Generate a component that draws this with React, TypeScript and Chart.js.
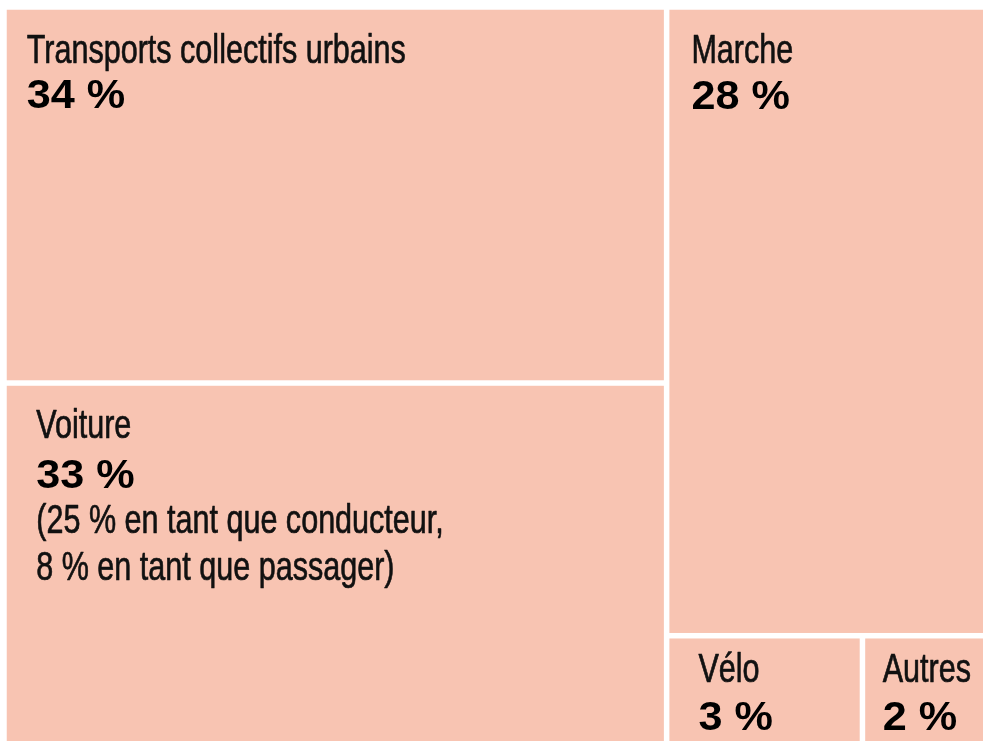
import { useEffect, useRef } from "react";
import { Chart, registerables } from "chart.js";

Chart.register(...registerables);

// ---- Data ----
const categories = ["Transports collectifs urbains", "Voiture", "Marche", "Vélo", "Autres"];
const shares = [34, 33, 28, 3, 2];
const shareLabels = ["34 %", "33 %", "28 %", "3 %", "2 %"];
const notes: string[][] = [
  [],
  ["(25 % en tant que conducteur,", "8 % en tant que passager)"],
  [],
  [],
  [],
];

// ---- Styles (text offsets inside each cell, in px) ----
const labelOffsets = [
  { dx: 20, label: 53, value: 98, note: [] as number[] },
  { dx: 29.5, label: 52, value: 102, note: [147, 194] },
  { dx: 22, label: 53, value: 99, note: [] as number[] },
  { dx: 29, label: 44, value: 92, note: [] as number[] },
  { dx: 17.5, label: 44, value: 92, note: [] as number[] },
];
const CELL_COLOR = "#F8C4B2";
const GAP = 2.75;
const LABEL_FONT = "41px 'Liberation Sans', Arial, sans-serif";
const LABEL_SCALE = 0.745;
const LABEL_STROKE = 0.7;
const VALUE_FONT = "bold 40px 'Liberation Sans', Arial, sans-serif";
const VALUE_SCALE = 1.08;

type Rect = { x: number; y: number; w: number; h: number };
type Item = { i: number; a: number };

function layoutRow(row: Item[], r: Rect, out: Rect[]): Rect {
  const s = row.reduce((t, it) => t + it.a, 0);
  if (r.w >= r.h) {
    const cw = s / r.h;
    let y = r.y;
    for (const it of row) {
      const h = it.a / cw;
      out[it.i] = { x: r.x, y, w: cw, h };
      y += h;
    }
    return { x: r.x + cw, y: r.y, w: r.w - cw, h: r.h };
  } else {
    const rh = s / r.w;
    let x = r.x;
    for (const it of row) {
      const w = it.a / rh;
      out[it.i] = { x, y: r.y, w, h: rh };
      x += w;
    }
    return { x: r.x, y: r.y + rh, w: r.w, h: r.h - rh };
  }
}

function worst(row: Item[], side: number): number {
  const s = row.reduce((t, it) => t + it.a, 0);
  const mx = Math.max(...row.map((it) => it.a));
  const mn = Math.min(...row.map((it) => it.a));
  return Math.max((side * side * mx) / (s * s), (s * s) / (side * side * mn));
}

function squarify(values: number[], rect: Rect): Rect[] {
  const total = values.reduce((a, b) => a + b, 0);
  const k = (rect.w * rect.h) / total;
  const items: Item[] = values.map((v, i) => ({ i, a: v * k })).sort((a, b) => b.a - a.a);
  const out: Rect[] = new Array(values.length);
  let r = { ...rect };
  let row: Item[] = [];
  let idx = 0;
  while (idx < items.length) {
    const side = Math.min(r.w, r.h);
    const item = items[idx];
    if (row.length === 0 || worst([...row, item], side) <= worst(row, side)) {
      row.push(item);
      idx++;
    } else {
      r = layoutRow(row, r, out);
      row = [];
    }
  }
  if (row.length) layoutRow(row, r, out);
  return out;
}

function drawScaledText(
  ctx: CanvasRenderingContext2D,
  text: string,
  x: number,
  y: number,
  font: string,
  sx: number,
  color: string,
  stroke = 0
) {
  ctx.save();
  ctx.translate(x, y);
  ctx.scale(sx, 1);
  ctx.font = font;
  ctx.fillStyle = color;
  ctx.textAlign = "left";
  ctx.textBaseline = "alphabetic";
  ctx.fillText(text, 0, 0);
  if (stroke > 0) {
    ctx.strokeStyle = color;
    ctx.lineWidth = stroke;
    ctx.lineJoin = "round";
    ctx.strokeText(text, 0, 0);
  }
  ctx.restore();
}

const treemapPlugin = {
  id: "treemapCells",
  afterDatasetsDraw(chart: any) {
    const { ctx } = chart;
    const xs = chart.scales.x;
    const ys = chart.scales.y;
    const left = xs.getPixelForValue(0);
    const right = xs.getPixelForValue(100);
    const top = ys.getPixelForValue(100);
    const bottom = ys.getPixelForValue(0);
    const ds = chart.data.datasets[0] as any;
    const values: number[] = ds.shares;
    const rects = squarify(values, { x: left, y: top, w: right - left, h: bottom - top });
    ctx.save();
    rects.forEach((r, i) => {
      const cx = r.x + GAP;
      const cy = r.y + GAP;
      const cw = r.w - 2 * GAP;
      const ch = r.h - 2 * GAP;
      ctx.fillStyle = CELL_COLOR;
      ctx.fillRect(cx, cy, cw, ch);
      const off = labelOffsets[i];
      drawScaledText(ctx, ds.categories[i], cx + off.dx, cy + off.label, LABEL_FONT, LABEL_SCALE, "#111", LABEL_STROKE);
      drawScaledText(ctx, ds.valueLabels[i], cx + off.dx, cy + off.value, VALUE_FONT, VALUE_SCALE, "#000");
      (ds.notes[i] as string[]).forEach((line, j) => {
        drawScaledText(ctx, line, cx + off.dx, cy + off.note[j], LABEL_FONT, LABEL_SCALE, "#111", LABEL_STROKE);
      });
    });
    ctx.restore();
  },
};

export default function App() {
  const canvasRef = useRef<HTMLCanvasElement | null>(null);

  useEffect(() => {
    if (!canvasRef.current) return;
    const chart = new Chart(canvasRef.current, {
      type: "scatter",
      data: {
        datasets: [
          {
            label: "Part modale",
            data: [],
            shares,
            categories,
            valueLabels: shareLabels,
            notes,
          } as any,
        ],
      },
      options: {
        responsive: true,
        maintainAspectRatio: false,
        animation: false,
        layout: { padding: { left: 4, top: 7, right: 0, bottom: 0 } },
        scales: {
          x: { type: "linear", min: 0, max: 100, display: false },
          y: { type: "linear", min: 0, max: 100, display: false },
        },
        plugins: {
          legend: { display: false },
          tooltip: { enabled: false },
        },
      },
      plugins: [treemapPlugin],
    });
    return () => chart.destroy();
  }, []);

  return (
    <div style={{ position: "fixed", left: 0, top: 0, width: 993, height: 748 }}>
      <canvas ref={canvasRef} />
    </div>
  );
}
